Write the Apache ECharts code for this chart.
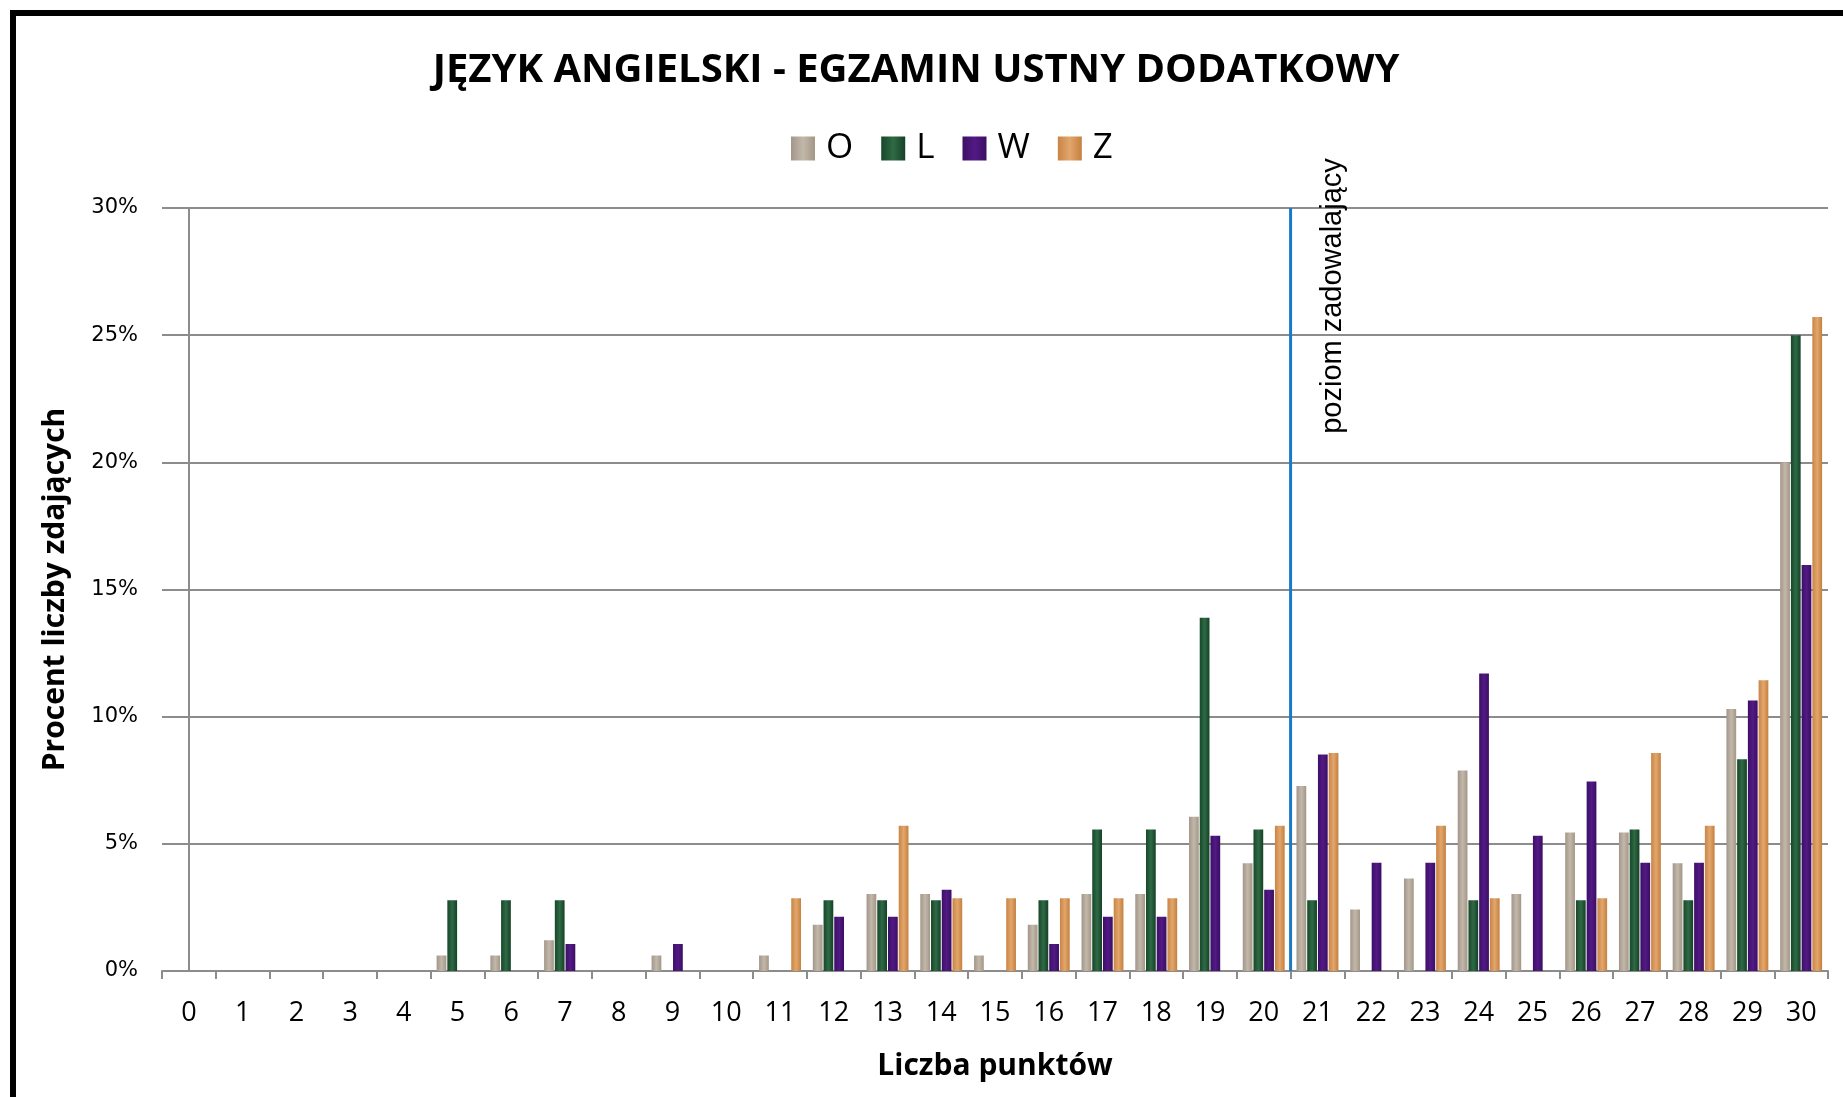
<!DOCTYPE html>
<html>
<head>
<meta charset="utf-8">
<script src="https://cdn.jsdelivr.net/npm/echarts@6/dist/echarts.min.js"></script>
<style>
  html, body { margin: 0; padding: 0; background: #fff; }
  #chart { width: 1843px; height: 1097px; }
  #frame {
    position: absolute; left: 10px; top: 10px; width: 2000px; height: 2000px;
    border-top: 6px solid #000; border-left: 6px solid #000;
    pointer-events: none;
  }
</style>
</head>
<body>
<div id="chart"></div>
<div id="frame"></div>
<script>
// liczba punktów 0..30
const punkty = ['0','1','2','3','4','5','6','7','8','9','10','11','12','13','14','15','16','17','18','19','20','21','22','23','24','25','26','27','28','29','30']

// procent liczby zdających
const seriaO = [0,0,0,0,0,0.61,0.61,1.21,0,0.61,0,0.61,1.82,3.03,3.03,0.61,1.82,3.03,3.03,6.06,4.24,7.27,2.42,3.64,7.88,3.03,5.45,5.45,4.24,10.30,20.00]
const seriaL = [0,0,0,0,0,2.78,2.78,2.78,0,0,0,0,2.78,2.78,2.78,0,2.78,5.56,5.56,13.89,5.56,2.78,0,0,2.78,0,2.78,5.56,2.78,8.33,25.00]
const seriaW = [0,0,0,0,0,0,0,1.06,0,1.06,0,0,2.13,2.13,3.19,0,1.06,2.13,2.13,5.32,3.19,8.51,4.26,4.26,11.70,5.32,7.45,4.26,4.26,10.64,15.96]
const seriaZ = [0,0,0,0,0,0,0,0,0,0,0,2.86,0,5.71,2.86,2.86,2.86,2.86,2.86,0,5.71,8.57,0,5.71,2.86,0,2.86,8.57,5.71,11.43,25.71]

const nazwySerii = ['O', 'L', 'W', 'Z']
const yTicks = [0, 5, 10, 15, 20, 25, 30]

// granica poziomu zadowalającego (między 20 a 21 pkt)
const poziomZadowalajacy = 20.5

const kolory = {
  O: ['#a2968a', '#c2b8aa', '#a39686'],
  L: ['#17472a', '#2f6a45', '#154126'],
  W: ['#3d0f66', '#521a85', '#3b0e62'],
  Z: ['#c98446', '#e2a66c', '#c4803f']
}

function grad(c) {
  return new echarts.graphic.LinearGradient(0, 0, 1, 0, [
    { offset: 0, color: c[0] },
    { offset: 0.5, color: c[1] },
    { offset: 1, color: c[2] }
  ])
}

const chart = echarts.init(document.getElementById('chart'))

const gridTop = 208
const gridLeft = 162

const barSeries = [seriaO, seriaL, seriaW, seriaZ].map((d, i) => ({
  name: nazwySerii[i],
  type: 'bar',
  data: d,
  barGap: '10%',
  barCategoryGap: '22%',
  itemStyle: { color: grad(kolory[nazwySerii[i]]) }
}))

chart.setOption({
  backgroundColor: '#fff',
  animation: false,
  title: {
    text: 'JĘZYK ANGIELSKI - EGZAMIN USTNY DODATKOWY',
    left: 911,
    top: 46,
    textAlign: 'center',
    textStyle: { fontFamily: 'Open Sans', fontWeight: 'bold', fontSize: 40, color: '#000' }
  },
  legend: {
    data: nazwySerii,
    left: 786,
    top: 126,
    icon: 'rect',
    itemWidth: 24,
    itemHeight: 24,
    itemGap: 28,
    textStyle: { fontFamily: 'Open Sans', fontSize: 35, color: '#000', padding: [0, 0, 0, 6] }
  },
  grid: { left: gridLeft, right: 15, top: gridTop, bottom: 126 },
  xAxis: [{
    type: 'category',
    data: punkty,
    name: 'Liczba punktów',
    nameLocation: 'middle',
    nameGap: 80,
    nameTextStyle: { fontFamily: 'Open Sans', fontWeight: 'bold', fontSize: 30, color: '#000' },
    axisLine: { lineStyle: { color: '#8c8c8c', width: 2 } },
    axisTick: { show: true, length: 8, lineStyle: { color: '#8c8c8c', width: 2 } },
    axisLabel: { fontFamily: 'Open Sans', fontSize: 27, color: '#000', margin: 29 }
  }, {
    type: 'value',
    min: -0.5,
    max: 30.5,
    show: false
  }],
  yAxis: {
    type: 'value',
    min: yTicks[0],
    max: yTicks[yTicks.length - 1],
    interval: 5,
    name: 'Procent liczby zdających',
    nameLocation: 'middle',
    nameGap: 92,
    nameTextStyle: { fontFamily: 'Open Sans', fontWeight: 'bold', fontSize: 30, color: '#000' },
    axisLine: { show: true, lineStyle: { color: '#8c8c8c', width: 2 } },
    axisTick: { show: true, length: 6, lineStyle: { color: '#8c8c8c', width: 2 } },
    axisLabel: { fontFamily: 'DejaVu Sans', fontSize: 21, color: '#000', margin: 24, formatter: '{value}%' },
    splitLine: { lineStyle: { color: '#8c8c8c', width: 2 } }
  },
  series: barSeries.concat([{
    name: 'poziom',
    type: 'line',
    xAxisIndex: 1,
    data: [[poziomZadowalajacy, yTicks[0]], [poziomZadowalajacy, yTicks[yTicks.length - 1]]],
    showSymbol: false,
    symbol: 'none',
    silent: true,
    lineStyle: { color: '#1a7ac8', width: 3 },
    z: 5
  }])
})

// podpis linii poziomu
const lineX = chart.convertToPixel({ xAxisIndex: 1 }, poziomZadowalajacy)
chart.setOption({
  graphic: [{
    type: 'text',
    x: lineX + 42,
    y: gridTop + 88,
    rotation: Math.PI / 2,
    style: {
      text: 'poziom zadowalający',
      font: '29px "Liberation Sans", Arial, sans-serif',
      fill: '#000',
      textAlign: 'center',
      textVerticalAlign: 'middle'
    }
  }]
})

window.addEventListener('resize', () => chart.resize())
</script>
</body>
</html>
